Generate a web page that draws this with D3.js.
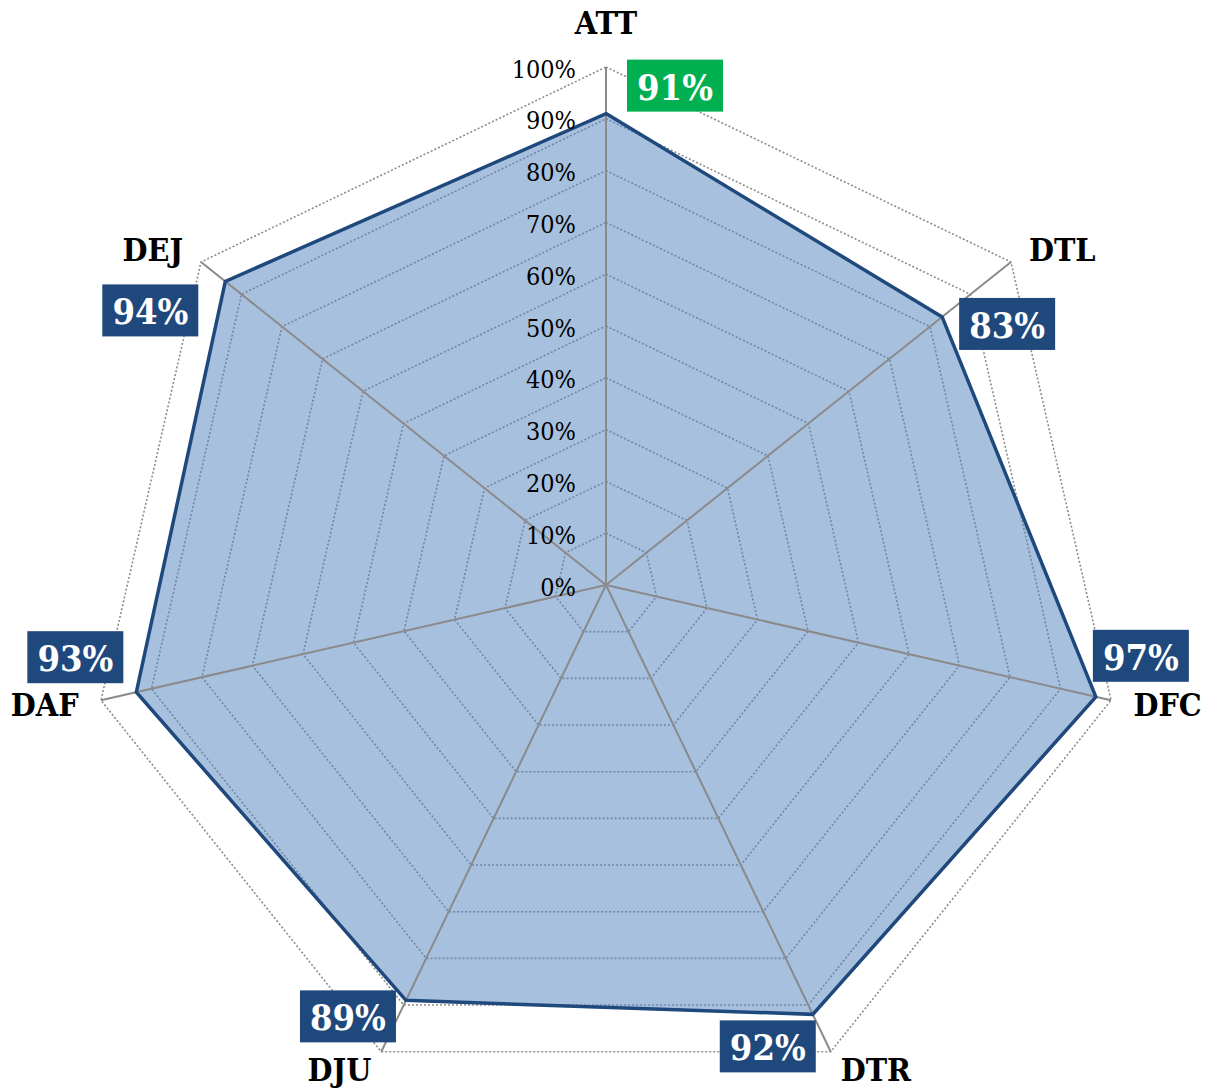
<!DOCTYPE html>
<html lang="en">
<head>
    <meta charset="UTF-8">
    <title>radar</title>
    <script src="https://cdn.jsdelivr.net/npm/d3@7/dist/d3.min.js"></script>
    <style>
        body { margin: 0; background: #fff; }
        svg text {
            font-family: "DejaVu Serif Condensed", "DejaVu Serif", serif;
            font-stretch: condensed;
        }
    </style>
</head>
<body>
<div id="chart"></div>
<script>
    // data
    const categories = ["ATT", "DTL", "DFC", "DTR", "DJU", "DAF", "DEJ"];
    const values = [91, 83, 97, 92, 89, 93, 94];
    const tickValues = [0, 10, 20, 30, 40, 50, 60, 70, 80, 90, 100];
    const highlighted = ["ATT"];

    // layout: where each value box sits relative to its point
    const boxOffsets = [[69, -28], [65, 7], [45, -41], [-45, 32], [-58, 16], [-61, -35], [-75, 29]];

    const W = 1206, H = 1090;
    const cx = 606, cy = 585, R = 518;

    let svg = d3.select("#chart").append("svg")
        .attr("width", W)
        .attr("height", H);
    let g = svg.append("g").attr("transform", "translate(" + cx + "," + cy + ")");

    let r = d3.scaleLinear().domain([0, 100]).range([0, R]);
    let angle = d3.scaleLinear().domain([0, categories.length]).range([0, 2 * Math.PI]);

    let pt = (i, v) => {
        let a = angle(i);
        return [r(v) * Math.sin(a), -r(v) * Math.cos(a)];
    };

    //////////// grid (dotted heptagons) ////////////
    let ring = d3.lineRadial()
        .angle((d, i) => angle(i))
        .radius(d => r(d))
        .curve(d3.curveLinearClosed);

    g.selectAll(".grid")
        .data(tickValues.filter(t => t > 0))
        .enter().append("path")
        .attr("class", "grid")
        .attr("d", t => ring(categories.map(() => t)))
        .attr("fill", "none")
        .attr("stroke", "#8c8c8c")
        .attr("stroke-width", 1.6)
        .attr("stroke-dasharray", "2,2");

    //////////// series area ////////////
    g.append("path")
        .attr("d", ring(values))
        .attr("fill", "#4F81BD")
        .attr("fill-opacity", 0.5)
        .attr("stroke", "none");

    //////////// spokes ////////////
    g.selectAll(".spoke")
        .data(categories)
        .enter().append("line")
        .attr("class", "spoke")
        .attr("x1", 0).attr("y1", 0)
        .attr("x2", (d, i) => pt(i, 100)[0])
        .attr("y2", (d, i) => pt(i, 100)[1])
        .attr("stroke", "#8a8a8a")
        .attr("stroke-width", 2);

    //////////// series outline ////////////
    g.append("path")
        .attr("d", ring(values))
        .attr("fill", "none")
        .attr("stroke", "#1F497D")
        .attr("stroke-width", 3.5)
        .attr("stroke-linejoin", "miter");

    //////////// tick labels ////////////
    g.selectAll(".tick")
        .data(tickValues)
        .enter().append("text")
        .attr("class", "tick")
        .attr("x", -30)
        .attr("y", d => -r(d) + 2)
        .attr("text-anchor", "end")
        .attr("dominant-baseline", "central")
        .attr("font-size", 25)
        .attr("fill", "#000")
        .text(d => d + "%");

    //////////// category labels ////////////
    g.selectAll(".cat")
        .data(categories)
        .enter().append("text")
        .attr("class", "cat")
        .each(function (d, i) {
            let a = angle(i);
            let s = Math.sin(a), c = Math.cos(a);
            let [ex, ey] = pt(i, 100);
            let x = ex + 23 * s;
            let y = ey - 20 * c;
            let anchor = "middle";
            if (s > 0.1) anchor = "start";
            if (s < -0.1) anchor = "end";
            if (Math.abs(s) < 0.1) y -= 24;
            d3.select(this)
                .attr("x", x)
                .attr("y", y)
                .attr("text-anchor", anchor)
                .attr("dominant-baseline", "central");
        })
        .attr("font-size", 32)
        .attr("font-weight", "bold")
        .attr("fill", "#000")
        .text(d => d);

    //////////// value boxes ////////////
    let bw = 96, bh = 52;
    let boxes = g.selectAll(".vbox")
        .data(values)
        .enter().append("g")
        .attr("class", "vbox")
        .attr("transform", (d, i) => {
            let p = pt(i, d);
            return "translate(" + (p[0] + boxOffsets[i][0]) + "," + (p[1] + boxOffsets[i][1]) + ")";
        });

    boxes.append("rect")
        .attr("x", -bw / 2).attr("y", -bh / 2)
        .attr("width", bw).attr("height", bh)
        .attr("fill", (d, i) => highlighted.includes(categories[i]) ? "#00B050" : "#1F497D");

    boxes.append("text")
        .attr("text-anchor", "middle")
        .attr("dominant-baseline", "central")
        .attr("y", 1)
        .attr("font-size", 36)
        .attr("font-weight", "bold")
        .attr("fill", "#fff")
        .text(d => d + "%");
</script>
</body>
</html>
